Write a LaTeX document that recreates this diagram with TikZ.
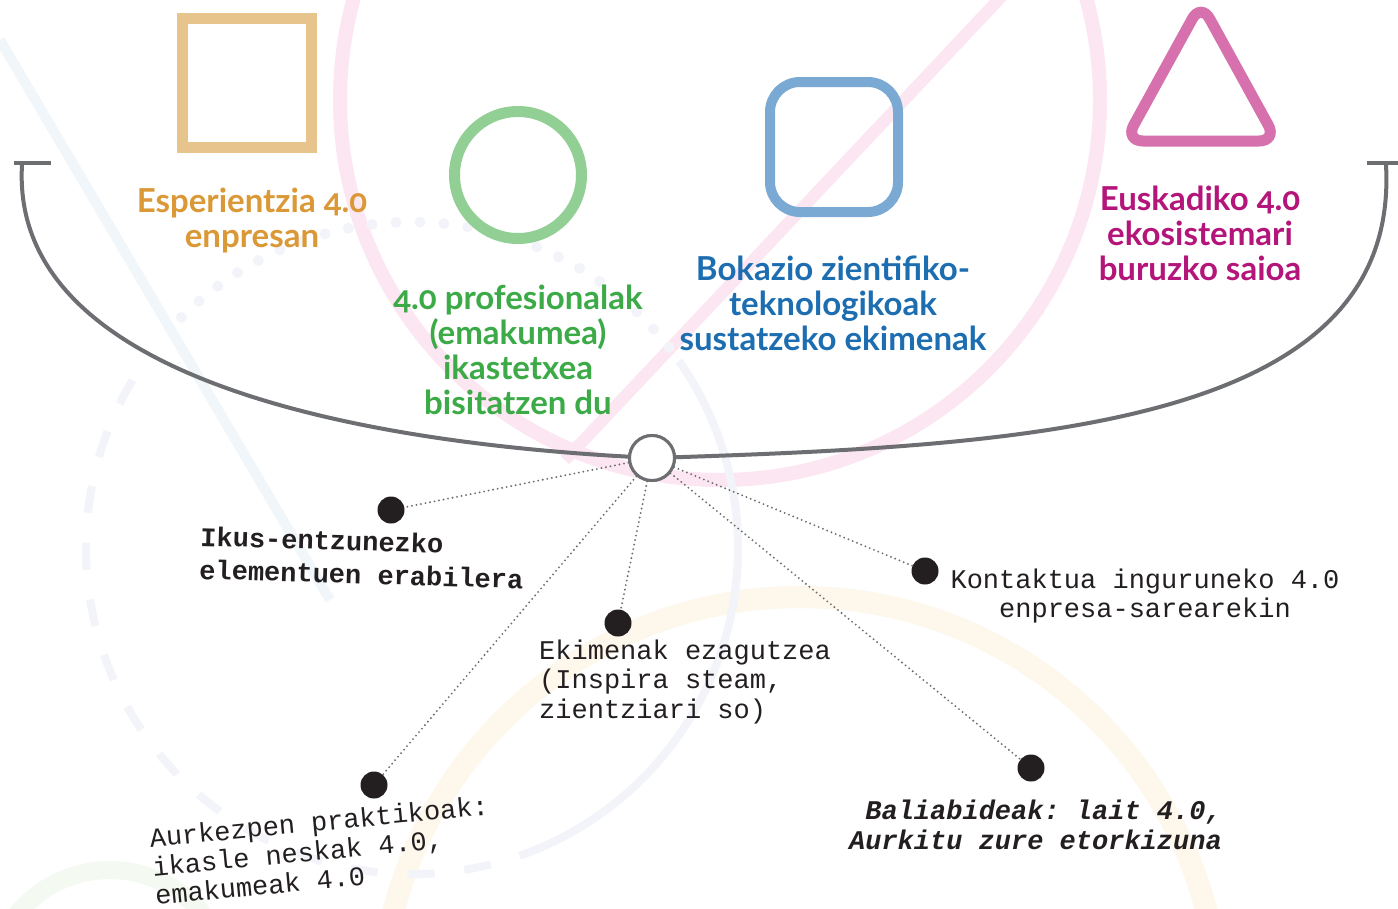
\documentclass[tikz,border=0pt]{standalone}
\usepackage{fontspec}
\setmainfont{Carlito}
\newfontfamily\headfont[Numbers=OldStyle]{Lato}
\newfontfamily\monofont{Liberation Mono}
\definecolor{sqorange}{HTML}{E8C48D}
\definecolor{circgreen}{HTML}{92CF95}
\definecolor{boxblue}{HTML}{7AAAD3}
\definecolor{tripink}{HTML}{D671AE}
\definecolor{txtorange}{HTML}{DB9836}
\definecolor{txtgreen}{HTML}{3BAA47}
\definecolor{txtblue}{HTML}{1D6DB1}
\definecolor{txtmagenta}{HTML}{B3157A}
\definecolor{arcgrey}{HTML}{6D6E71}
\definecolor{inkblack}{HTML}{231F20}
\definecolor{bgpink}{HTML}{FCE6F1}
\definecolor{bgorange}{HTML}{FDF7EC}
\definecolor{bgblue}{HTML}{F2F4F9}
\definecolor{bgdots}{HTML}{F3F4F9}
\definecolor{bglight}{HTML}{F0F6F9}
\definecolor{bggreen}{HTML}{F4F9F2}
\frenchspacing
\begin{document}
\frenchspacing
\begin{tikzpicture}[x=1pt,y=-1pt,
  head/.style={font=\headfont\bfseries\fontsize{33}{35}\selectfont, align=center, inner sep=0pt},
  mono/.style={inner sep=0pt, text=inkblack},
  dot/.style={circle, fill=inkblack, minimum size=27pt, inner sep=0pt},
  hubnode/.style={circle, draw=arcgrey, fill=white, line width=3pt, minimum size=45pt, inner sep=0pt},
  conn/.style={draw=arcgrey, line width=2.1pt, line cap=round, dash pattern=on 0pt off 4.6pt},
  arcline/.style={draw=arcgrey, line width=4pt},
  icon/.style={inner sep=0pt, fill=none}
]
\useasboundingbox (0,0) rectangle (1398,908);
\fill[white] (0,0) rectangle (1398,908);
% ---- faint background decoration ----
\draw[bglight, line width=10pt] (0,40) -- (330,600);
\draw[bgpink, line width=14pt] (720,100) circle[radius=380];
\draw[bgpink, line width=12pt] (1003,-5) -- (565,460);
\draw[bgorange, line width=22pt] (800,1017) circle[radius=420];
\draw[bggreen, line width=18pt] (110,990) circle[radius=120];
\draw[bgblue, line width=8pt] (412,548) ++(-35:326) arc[start angle=-35, end angle=66, radius=326];
\draw[bgblue, line width=8pt, dash pattern=on 27pt off 30pt] (412,548) ++(66:326) arc[start angle=66, end angle=211, radius=326];
\draw[bgdots, line width=11pt, line cap=round, dash pattern=on 0pt off 24pt] (412,548) ++(225:326) arc[start angle=225, end angle=325, radius=326];
% ---- icons ----
\node[icon, draw=sqorange, line width=11pt, minimum size=129pt] (sq) at (247,83) {};
\node[icon, circle, draw=circgreen, line width=11pt, minimum size=127pt] (ci) at (518,175) {};
\node[icon, draw=boxblue, line width=10pt, rounded corners=30pt, minimum width=128pt, minimum height=130pt] (bx) at (834,147) {};
\draw[tripink, line width=11pt, rounded corners=18pt] (1201,3) -- (1277,141) -- (1125,141) -- cycle;
% ---- headings ----
\node[head, text=txtorange] (t1) at (252,221) {Esperientzia 4.0\\enpresan};
\node[head, text=txtgreen] (t2) at (518,350) {4.0 profesionalak\\(emakumea)\\ikastetxea\\bisitatzen du};
\node[head, text=txtblue] (t3) at (833,303) {Bokazio zientifiko-\\teknologikoak\\sustatzeko ekimenak};
\node[head, text=txtmagenta] (t4) at (1200,233) {Euskadiko 4.0\\ekosistemari\\buruzko saioa};
% ---- big arc and hub ----
\coordinate (lend) at (22,165);
\coordinate (rend) at (1386,165);
\node[hubnode] (hub) at (652,458) {};
\draw[arcline] (lend) .. controls (10,370) and (330,440) .. (hub);
\draw[arcline] (hub) .. controls (1050,445) and (1400,420) .. (rend);
\draw[arcline] (14,163) -- (51,163);
\draw[arcline] (1367,163) -- (1398,163);
\node[hubnode] at (hub) {};
% ---- dots ----
\node[dot] (d1) at (391,510) {};
\node[dot] (d2) at (618,623) {};
\node[dot] (d3) at (374,785) {};
\node[dot] (d4) at (925,571) {};
\node[dot] (d5) at (1031,768) {};
\draw[conn] (hub) -- (d1);
\draw[conn] (hub) -- (d2);
\draw[conn] (hub) -- (d3);
\draw[conn] (hub) -- (d4);
\draw[conn] (hub) -- (d5);
% ---- labels (anchor = baseline of the last line) ----
\node[mono, font=\monofont\bfseries\fontsize{27}{33}\selectfont, align=left, anchor=base west, rotate=-1.7] (l1) at (199,579) {Ikus-entzunezko\\elementuen erabilera};
\node[mono, font=\monofont\fontsize{27}{29.5}\selectfont, align=left, anchor=base west] (l2) at (539,718) {Ekimenak ezagutzea\\(Inspira steam,\\zientziari so)};
\node[mono, font=\monofont\fontsize{27}{29}\selectfont, align=center, anchor=base] (l3) at (1145,617) {Kontaktua inguruneko 4.0\\enpresa-sarearekin};
\node[mono, font=\monofont\bfseries\itshape\fontsize{27}{30}\selectfont, align=right, anchor=base east] (l4) at (1222,849) {Baliabideak: lait 4.0,\\Aurkitu zure etorkizuna};
\node[mono, font=\monofont\fontsize{27}{29}\selectfont, align=left, anchor=base west, rotate=5.5] (l5) at (156,905) {Aurkezpen praktikoak:\\ikasle neskak 4.0,\\emakumeak 4.0};
\end{tikzpicture}
\end{document}
